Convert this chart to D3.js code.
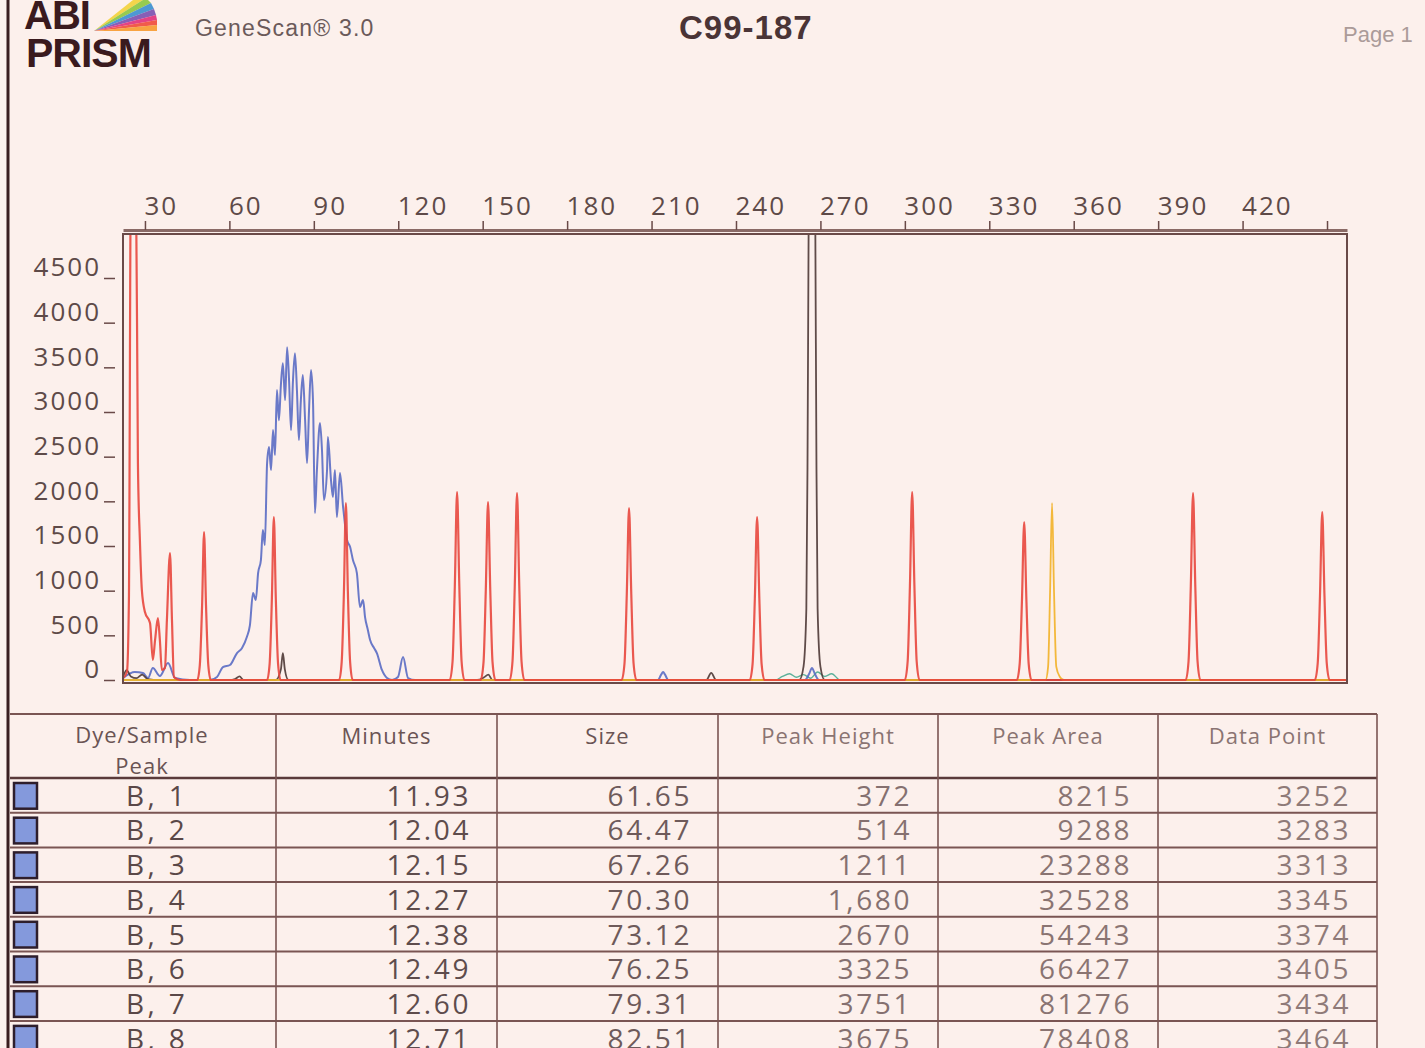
<!DOCTYPE html>
<html>
<head>
<meta charset="utf-8">
<script src="https://cdn.jsdelivr.net/npm/d3@7"></script>
<style>
  body { margin: 0; background: #fcf0ec; }
  svg { display: block; }
</style>
</head>
<body>
<div id="chart"></div>
<script>
// axis ticks
var sizeTicks = [30, 60, 90, 120, 150, 180, 210, 240, 270, 300, 330, 360, 390, 420, 450];
var rfuTicks = [0, 500, 1000, 1500, 2000, 2500, 3000, 3500, 4000, 4500];

// traces: [size (bp), height]
var blueTrace = [[22.2,22],[26.4,90],[29.3,78],[31.1,22],[32.8,134],[35.3,45],[38.2,190],[40.7,22],[46.0,0],[53.1,0],
    [55.6,34],[57.7,145],[60.2,168],[62.7,302],[64.5,358],[66.2,481],[67.3,615],[68.4,974],[69.4,895],[70.2,1197],
    [71.2,1343],[71.9,1679],[72.6,1511],[73.4,2428],[74.1,2607],[74.8,2350],[75.5,2798],[76.2,2518],[76.9,3245],
    [77.6,2909],[78.3,3301],[79.0,3547],[79.8,3133],[80.5,3726],[81.2,3357],[81.9,2798],[82.6,3357],[83.3,3659],
    [84.0,3245],[84.7,2686],[85.4,3133],[86.1,3413],[86.9,2909],[87.6,2428],[88.3,3021],[89.0,3469],[89.7,3133],
    [90.4,1869],[91.1,2350],[92.2,2876],[92.9,2574],[93.6,2014],[94.7,2350],[95.0,2719],[96.1,2238],[96.8,2048],
    [97.5,2350],[98.2,1824],[99.3,2316],[100.4,1936],[101.1,1734],[101.8,1567],[102.9,1488],[103.9,1343],[105.3,1197],
    [106.4,817],[107.5,895],[108.2,705],[109.2,560],[110.0,448],[111.4,358],[112.4,302],[114.2,112],[116.0,22],
    [117.8,0],[119.9,34],[121.7,257],[123.5,22],[126.0,0],[212.3,0],[213.4,60],[214.1,90],[214.8,60],[215.9,0],
    [264.5,0],[266.0,70],[267.0,134],[268.0,70],[269.5,0],[457.0,0]];

var redTrace = [[22.2,20],[23.6,90],[24.3,895],[25.0,5600],[26.8,5600],[27.5,2428],[28.2,1567],[28.9,1007],[30.0,761],
    [31.8,638],[32.8,224],[33.6,448],[34.6,694],[35.3,448],[36.0,112],[37.1,134],[37.8,671],[38.9,1421],[39.6,671],
    [40.3,34],[42.4,0],
    [48.6,0],[49.5,170],[50.3,830],[51.0,1656],[51.7,830],[52.5,170],[53.4,0],
    [73.4,0],[74.3,180],[75.1,910],[75.8,1824],[76.5,910],[77.3,180],[78.2,0],
    [99.0,0],[99.9,200],[100.7,990],[101.4,1981],[102.1,990],[102.9,200],[103.8,0],
    [138.3,0],[139.3,210],[140.1,1050],[140.9,2104],[141.7,1050],[142.5,210],[143.5,0],
    [149.3,0],[150.3,200],[151.1,1000],[151.9,1992],[152.7,1000],[153.5,200],[154.5,0],
    [159.6,0],[160.6,210],[161.4,1050],[162.2,2093],[163.0,1050],[163.8,210],[164.8,0],
    [199.4,0],[200.4,190],[201.2,960],[202.0,1925],[202.8,960],[203.6,190],[204.6,0],
    [244.9,0],[245.9,180],[246.7,910],[247.5,1824],[248.3,910],[249.1,180],[250.1,0],
    [300.0,0],[301.0,210],[301.8,1050],[302.6,2104],[303.4,1050],[304.2,210],[305.2,0],
    [339.8,0],[340.8,180],[341.6,880],[342.4,1768],[343.2,880],[344.0,180],[345.0,0],
    [399.8,0],[400.8,210],[401.6,1050],[402.4,2093],[403.2,1050],[404.0,210],[405.0,0],
    [445.7,0],[446.7,190],[447.5,940],[448.3,1880],[449.1,940],[449.9,190],[450.9,0],[457.0,0]];

var blackTrace = [[22.2,30],[23.5,110],[25.0,40],[27.0,20],[29.0,60],[31.0,10],[35.0,0],[60.0,0],[62.0,10],[63.6,40],
    [65.0,0],[76.5,0],[78.3,120],[79.0,300],[79.7,120],[81.0,0],[148.0,0],[150.5,30],[152.0,60],[153.5,0],
    [229.5,0],[231.2,80],[232.9,0],[262.5,0],[264.0,150],[265.0,800],[265.4,2350],[265.8,5000],[267.0,9000],
    [268.2,5000],[268.6,2350],[269.0,800],[270.0,150],[271.5,0],[457.0,0]];

var greenTrace = [[22.2,0],[254.0,0],[256.5,40],[259.0,70],[261.5,30],[264.0,60],[266.5,20],[269.0,90],[271.5,40],
    [274.0,70],[277.0,0],[457.0,0]];

var yellowTrace = [[22.2,0],[350.0,0],[350.9,150],[351.6,990],[352.3,1981],[353.0,990],[353.8,150],[355.0,40],
    [356.5,0],[457.0,0]];

// peak table
var tableHeaders = ["Dye/Sample", "Minutes", "Size", "Peak Height", "Peak Area", "Data Point"];
var peakLabels = ["B, 1", "B, 2", "B, 3", "B, 4", "B, 5", "B, 6", "B, 7", "B, 8"];
var minutes = ["11.93", "12.04", "12.15", "12.27", "12.38", "12.49", "12.60", "12.71"];
var sizes = ["61.65", "64.47", "67.26", "70.30", "73.12", "76.25", "79.31", "82.51"];
var peakHeights = ["372", "514", "1211", "1,680", "2670", "3325", "3751", "3675"];
var peakAreas = ["8215", "9288", "23288", "32528", "54243", "66427", "81276", "78408"];
var dataPoints = ["3252", "3283", "3313", "3345", "3374", "3405", "3434", "3464"];

var svg = d3.select("#chart").append("svg")
    .attr("width", 1425)
    .attr("height", 1048)
    .style("font-family", "'Open Sans', sans-serif");

// page edge
svg.append("line")
    .attr("x1", 8).attr("x2", 8).attr("y1", 0).attr("y2", 1048)
    .attr("stroke", "#3a1c1e").attr("stroke-width", 3);

// header: logo and titles
var logoColors = ["#f3d23a", "#8cc63f", "#3a8fd0", "#7a4fb0", "#e0307a", "#ef4a3a", "#f79a30"];
var apexPts = [[138,-4],[146,-2],[151,3],[154,9],[156,15],[157,20],[157,25],[157,31]];
logoColors.forEach(function(c, i){
    svg.append("polygon")
        .attr("points", [[94,31], apexPts[i], apexPts[i+1]].map(function(p){ return p.join(","); }).join(" "))
        .attr("fill", c).attr("opacity", 0.9);
});
svg.append("text").attr("x", 24).attr("y", 29).text("ABI")
    .style("font-family", "'Liberation Sans', Arial, sans-serif").style("font-weight", 700)
    .style("font-size", "40px").attr("fill", "#3a1a1e").attr("letter-spacing", -1);
svg.append("text").attr("x", 26).attr("y", 67).text("PRISM")
    .style("font-family", "'Liberation Sans', Arial, sans-serif").style("font-weight", 700)
    .style("font-size", "41px").attr("fill", "#3a1a1e").attr("letter-spacing", -1);
svg.append("text").attr("x", 195).attr("y", 36).text("GeneScan\u00ae 3.0")
    .style("font-family", "'Liberation Sans', Arial, sans-serif")
    .style("font-size", "23px").attr("letter-spacing", 1.2).attr("fill", "#6b5a5a");
svg.append("text").attr("x", 679).attr("y", 39).text("C99-187")
    .style("font-family", "'Liberation Sans', Arial, sans-serif").style("font-weight", 700)
    .style("font-size", "33px").attr("letter-spacing", 1).attr("fill", "#4a3436");
svg.append("text").attr("x", 1343).attr("y", 42).text("Page 1")
    .style("font-family", "'Liberation Sans', Arial, sans-serif")
    .style("font-size", "22px").attr("fill", "#ab9b99");

// electropherogram
var plot = {left: 123, right: 1347, top: 234, bottom: 683};

var x = d3.scaleLinear().domain([22.2, 457.1]).range([plot.left, plot.right]);
var y = d3.scaleLinear().domain([0, 4500]).range([680, 278]);

svg.append("clipPath").attr("id", "plotclip")
  .append("rect")
    .attr("x", plot.left).attr("y", plot.top)
    .attr("width", plot.right - plot.left).attr("height", plot.bottom - plot.top);

var line = d3.line()
    .x(function(d){ return x(d[0]); })
    .y(function(d){ return y(d[1]); })
    .curve(d3.curveMonotoneX);

var traces = [
    {data: greenTrace, color: "#4aa890", w: 1.4},
    {data: blueTrace, color: "#5a6cc4", w: 2},
    {data: blackTrace, color: "#4e3836", w: 1.8},
    {data: yellowTrace, color: "#f2b128", w: 1.8},
    {data: redTrace, color: "#e8473e", w: 2.2}
];

var traceG = svg.append("g").attr("clip-path", "url(#plotclip)");
traces.forEach(function(t){
    traceG.append("path")
        .datum(t.data)
        .attr("d", line)
        .attr("fill", "none")
        .attr("stroke", t.color)
        .attr("stroke-width", t.w)
        .attr("stroke-linejoin", "round")
        .attr("opacity", 0.9);
});

svg.append("rect")
    .attr("x", plot.left).attr("y", plot.top)
    .attr("width", plot.right - plot.left).attr("height", plot.bottom - plot.top)
    .attr("fill", "none").attr("stroke", "#6a4a48").attr("stroke-width", 2);

// top axis: size
var xAxis = svg.append("g")
    .attr("transform", "translate(0,230)")
    .call(d3.axisTop(x)
        .tickValues(sizeTicks)
        .tickSize(9).tickSizeOuter(0).tickPadding(6)
        .tickFormat(function(d){ return d > 420 ? "" : d; }));
xAxis.select(".domain").attr("stroke", "#8a6a66").attr("stroke-width", 3);
xAxis.selectAll(".tick line").attr("stroke", "#6a4a48").attr("stroke-width", 1.5);
xAxis.selectAll(".tick text")
    .attr("text-anchor", "start").attr("x", -1)
    .style("font-family", "'Open Sans', sans-serif").style("font-size", "26px")
    .attr("letter-spacing", 2).attr("fill", "#5e4a48");

// left axis: signal
var yAxis = svg.append("g")
    .attr("transform", "translate(115,0)")
    .call(d3.axisLeft(y)
        .tickValues(rfuTicks)
        .tickSize(11).tickPadding(3)
        .tickFormat(d3.format("d")));
yAxis.select(".domain").remove();
yAxis.selectAll(".tick line").attr("stroke", "#6a4a48").attr("stroke-width", 1.5);
yAxis.selectAll(".tick text")
    .attr("dy", "-0.08em")
    .style("font-family", "'Open Sans', sans-serif").style("font-size", "26px")
    .attr("letter-spacing", 2).attr("fill", "#5e4a48");

// peak table
var colEdges = [10, 276, 497, 718, 938, 1158, 1377];
var tableTop = 714, headBottom = 778;
var rows = d3.scaleBand().domain(peakLabels).range([headBottom, headBottom + 8 * 34.7]);
var lineColor = "#7a5553";

var table = svg.append("g");

// header text
table.append("text").attr("x", 142).attr("y", 743).attr("text-anchor", "middle")
    .text(tableHeaders[0]).style("font-size", "22px").attr("letter-spacing", 1).attr("fill", "#6a5454");
table.append("text").attr("x", 142).attr("y", 774).attr("text-anchor", "middle")
    .text("Peak").style("font-size", "22px").attr("letter-spacing", 1).attr("fill", "#6a5454");
tableHeaders.slice(1).forEach(function(h, i){
    table.append("text")
        .attr("x", (colEdges[i + 1] + colEdges[i + 2]) / 2)
        .attr("y", 744)
        .attr("text-anchor", "middle")
        .text(h)
        .style("font-size", "22px").attr("letter-spacing", 1)
        .attr("fill", i < 2 ? "#6a5454" : "#8a7472");
});

// grid
table.append("line").attr("x1", colEdges[0]).attr("x2", colEdges[6])
    .attr("y1", tableTop).attr("y2", tableTop).attr("stroke", lineColor).attr("stroke-width", 2);
table.append("line").attr("x1", colEdges[0]).attr("x2", colEdges[6])
    .attr("y1", headBottom).attr("y2", headBottom).attr("stroke", "#5a3a3a").attr("stroke-width", 2.5);
peakLabels.forEach(function(p){
    table.append("line").attr("x1", colEdges[0]).attr("x2", colEdges[6])
        .attr("y1", rows(p) + rows.bandwidth()).attr("y2", rows(p) + rows.bandwidth())
        .attr("stroke", lineColor).attr("stroke-width", 2);
});
colEdges.slice(1).forEach(function(cx){
    table.append("line").attr("x1", cx).attr("x2", cx)
        .attr("y1", tableTop).attr("y2", 1048)
        .attr("stroke", lineColor).attr("stroke-width", 1.6);
});

// rows
var cols = [minutes, sizes, peakHeights, peakAreas, dataPoints];
var valueColors = ["#5e4c4c", "#6e5a5a", "#857070", "#8a7472", "#8f7a78"];
peakLabels.forEach(function(p, r){
    var top = rows(p), h = rows.bandwidth();
    table.append("rect")
        .attr("x", 14).attr("y", top + 5).attr("width", 23).attr("height", h - 9)
        .attr("fill", "#8499dc").attr("stroke", "#2e1e2c").attr("stroke-width", 2.5);
    table.append("text")
        .attr("x", 157).attr("y", top + h - 7)
        .attr("text-anchor", "middle")
        .text(p)
        .style("font-size", "28px").attr("letter-spacing", 3.4).attr("fill", "#5a4848");
    cols.forEach(function(vals, c){
        table.append("text")
            .attr("x", colEdges[c + 2] - 26)
            .attr("y", top + h - 7)
            .attr("text-anchor", "end")
            .text(vals[r])
            .style("font-size", "28px").attr("letter-spacing", 2.6)
            .attr("fill", valueColors[c]);
    });
});
</script>
</body>
</html>
